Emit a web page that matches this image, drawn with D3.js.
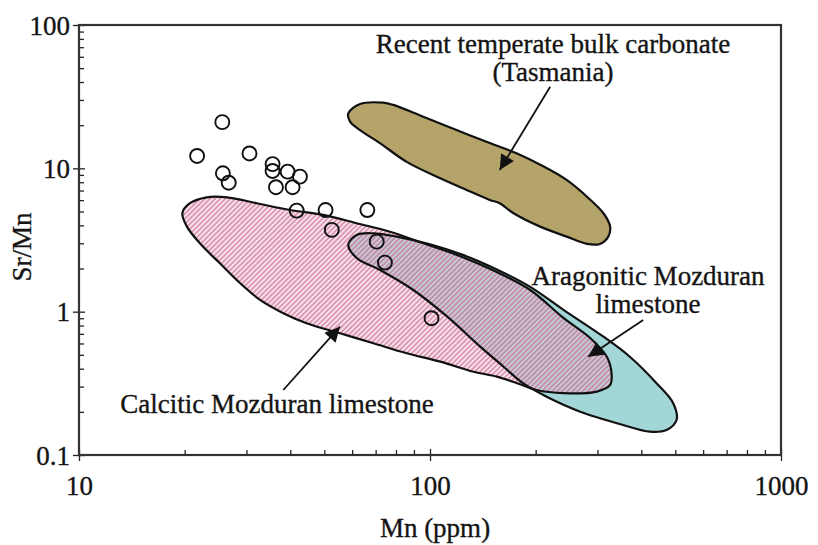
<!DOCTYPE html>
<html>
<head>
<meta charset="utf-8">
<script src="https://cdn.jsdelivr.net/npm/d3@7"></script>
<style>
  body { margin: 0; background: #fff; }
  text { font-family: "Liberation Serif", "DejaVu Serif", serif; font-size: 27px; fill: #141414; stroke: #141414; stroke-width: 0.35px; }
</style>
</head>
<body>
<div class="panel"></div>
<script>
// Sample points: Mn (ppm) and Sr/Mn
const sampleMn   = [25.6, 21.7, 30.6, 25.7, 26.7, 35.6, 35.6, 36.4, 39.3, 42.6, 40.6, 41.7, 50.4, 66.3, 52.5, 70.5, 74.4, 101];
const sampleSrMn = [21.0, 12.2, 12.7, 9.24, 7.94, 10.7, 9.59, 7.38, 9.48, 8.75, 7.38, 5.07, 5.12, 5.12, 3.72, 3.08, 2.20, 0.90];

// Field outlines as [Mn, Sr/Mn]
const tasmaniaField = [
  [58.5, 24.2], [63.2, 28.1], [73.6, 28.7], [78.6, 27.7], [95.7, 22.9], [119, 18.5], [148, 15.0],
  [177, 12.7], [206, 10.6], [245, 8.3], [280, 6.34], [312, 4.86], [326, 3.92], [322, 3.34],
  [305, 2.97], [280, 2.97], [245, 3.34], [206, 3.92], [173, 4.86], [158, 5.71], [148, 6.02],
  [127, 7.07], [107, 8.52], [85.8, 11.1], [72.0, 15.0], [63.2, 18.5], [59.2, 21.2]
];
const aragoniticField = [
  [58.5, 2.92], [61.8, 3.43], [69.0, 3.52], [80.4, 3.34], [100, 2.95], [124, 2.49], [155, 1.97],
  [193, 1.49], [240, 1.03], [312, 0.669], [371, 0.485], [442, 0.317], [493, 0.230], [504, 0.1755],
  [472, 0.1495], [423, 0.1455], [355, 0.162], [268, 0.2005], [215, 0.255], [184, 0.317],
  [162, 0.413], [139, 0.570], [112, 0.923], [89.6, 1.417], [72.0, 1.954], [61.8, 2.37]
];
const calciticField = [
  [19.7, 4.86], [20.7, 5.71], [23.1, 6.28], [26.4, 6.28], [32.1, 5.71], [39.9, 5.12], [49.7, 4.73],
  [61.8, 4.14], [76.9, 3.61], [95.7, 3.00], [124, 2.40], [155, 1.89], [193, 1.417], [240, 0.904],
  [286, 0.655], [319, 0.485], [329, 0.372], [326, 0.308], [299, 0.277], [240, 0.270], [201, 0.284],
  [177, 0.317], [155, 0.352], [133, 0.381], [107, 0.448], [85.8, 0.513], [69.0, 0.602], [55.4, 0.707],
  [44.5, 0.830], [38.2, 0.975], [32.8, 1.207], [28.8, 1.578], [25.2, 2.176], [22.1, 3.00], [20.3, 3.92]
];

// Arrows [from, to] in data units
const arrows = [
  [[220, 37.1], [158, 9.74]],
  [[38.2, 0.284], [55.4, 0.786]],
  [[405, 0.875], [282, 0.485]]
];

const xMajor = [10, 100, 1000];
const yMajor = [0.1, 1, 10, 100];
const yLabels = ["0.1", "1", "10", "100"];

const width = 818;
const height = 545;

const svg = d3.select(".panel")
  .append("svg")
  .attr("width", width)
  .attr("height", height)
  .attr("viewBox", `0 0 ${width} ${height}`);

const x = d3.scaleLog().domain([10, 1000]).range([79, 781]);
const y = d3.scaleLog().domain([0.1, 100]).range([455, 25]);

const defs = svg.append("defs");
const hatch = defs.append("pattern")
  .attr("id", "hatch")
  .attr("patternUnits", "userSpaceOnUse")
  .attr("width", 3.6)
  .attr("height", 3.6)
  .attr("patternTransform", "rotate(45)");
hatch.append("rect").attr("width", 3.6).attr("height", 3.6).attr("fill", "rgba(240,190,214,0.45)");
hatch.append("line").attr("x1", 1).attr("y1", 0).attr("x2", 1).attr("y2", 3.6)
  .attr("stroke", "#c65a80").attr("stroke-width", 1);

defs.append("marker")
  .attr("id", "head")
  .attr("markerUnits", "userSpaceOnUse")
  .attr("viewBox", "0 0 10 10")
  .attr("refX", 10).attr("refY", 5)
  .attr("markerWidth", 19).attr("markerHeight", 15)
  .attr("orient", "auto")
  .append("path")
  .attr("d", "M0,0 L10,5 L0,10 Z")
  .attr("fill", "#111");

const outline = d3.line()
  .x(d => x(d[0]))
  .y(d => y(d[1]))
  .curve(d3.curveCatmullRomClosed.alpha(0.5));

// fills
svg.append("path").attr("d", outline(tasmaniaField)).attr("fill", "#b4a46a");
svg.append("path").attr("d", outline(aragoniticField)).attr("fill", "#a3d6d7");
svg.append("path").attr("d", outline(calciticField)).attr("fill", "url(#hatch)");

// outlines
[tasmaniaField, aragoniticField, calciticField].forEach(f => {
  svg.append("path").attr("d", outline(f))
    .attr("fill", "none").attr("stroke", "#111").attr("stroke-width", 2.2)
    .attr("stroke-linejoin", "round");
});

// samples
svg.append("g").selectAll("circle")
  .data(sampleMn.map((m, i) => [m, sampleSrMn[i]]))
  .enter()
  .append("circle")
  .attr("cx", d => x(d[0]))
  .attr("cy", d => y(d[1]))
  .attr("r", 7)
  .attr("fill", "none")
  .attr("stroke", "#111")
  .attr("stroke-width", 1.9);

// arrows
svg.append("g").selectAll("line")
  .data(arrows)
  .enter()
  .append("line")
  .attr("x1", d => x(d[0][0])).attr("y1", d => y(d[0][1]))
  .attr("x2", d => x(d[1][0])).attr("y2", d => y(d[1][1]))
  .attr("stroke", "#111").attr("stroke-width", 1.8)
  .attr("marker-end", "url(#head)");

// axes
const xMinor = x.ticks().filter(t => !xMajor.includes(t));
const yMinor = y.ticks().filter(t => !yMajor.includes(t));

const gx = svg.append("g").attr("transform", `translate(0,${y(0.1)})`);
gx.call(d3.axisBottom(x).tickValues(xMajor).tickSize(6).tickPadding(0).tickFormat(d3.format("d")));
gx.select(".domain").remove();
gx.selectAll("text").attr("y", 40).attr("dy", null);
gx.append("g").call(d3.axisBottom(x).tickValues(xMajor).tickSize(-6).tickFormat(""))
  .select(".domain").remove();
gx.append("g").call(d3.axisBottom(x).tickValues(xMinor).tickSize(-5).tickFormat(""))
  .select(".domain").remove();

const gy = svg.append("g").attr("transform", `translate(${x(10)},0)`);
gy.call(d3.axisLeft(y).tickValues(yMajor).tickSize(6).tickPadding(3).tickFormat((d, i) => yLabels[i]));
gy.select(".domain").remove();
gy.selectAll("text").attr("dy", "0.34em");
gy.append("g").call(d3.axisLeft(y).tickValues(yMajor).tickSize(-6).tickFormat(""))
  .select(".domain").remove();
gy.append("g").call(d3.axisLeft(y).tickValues(yMinor).tickSize(-5).tickFormat(""))
  .select(".domain").remove();
svg.selectAll(".tick line").attr("stroke", "#222").attr("stroke-width", 1.3);

// frame
svg.append("rect")
  .attr("x", x(10)).attr("y", y(100))
  .attr("width", x(1000) - x(10)).attr("height", y(0.1) - y(100))
  .attr("fill", "none").attr("stroke", "#333").attr("stroke-width", 2.2);

// axis titles
svg.append("text")
  .attr("x", (x(10) + x(1000)) / 2 + 5).attr("y", 537)
  .attr("text-anchor", "middle")
  .text("Mn (ppm)");
svg.append("text")
  .attr("transform", "translate(31,247) rotate(-90)")
  .attr("text-anchor", "middle")
  .text("Sr/Mn");

// annotations
const notes = [
  {text: "Recent temperate bulk carbonate", x: 553, y: 53},
  {text: "(Tasmania)", x: 553, y: 81},
  {text: "Aragonitic Mozduran", x: 648, y: 285},
  {text: "limestone", x: 648, y: 313},
  {text: "Calcitic Mozduran limestone", x: 277, y: 413}
];
svg.append("g").selectAll("text")
  .data(notes)
  .enter()
  .append("text")
  .attr("x", d => d.x).attr("y", d => d.y)
  .attr("text-anchor", "middle")
  .text(d => d.text);
</script>
</body>
</html>
